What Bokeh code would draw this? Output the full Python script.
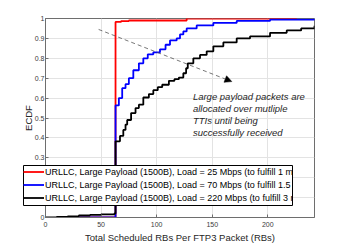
from bokeh.plotting import figure
from bokeh.layouts import column
from bokeh.models import (Legend, LegendItem, FixedTicker, Label,
                          Arrow, NormalHead, Range1d)
from bokeh.embed import file_html
from bokeh.resources import INLINE

# ---- data ----
red_x = [25, 63, 68, 75, 127, 226]
red_y = [0.0, 0.983, 0.987, 0.99, 1.0, 1.0]

blue_x = [25, 63, 66, 69, 72, 75, 79, 84, 88, 92, 97, 103, 108, 112, 118,
          121, 124, 127, 136, 151, 172, 202, 242]
blue_y = [0.0, 0.563, 0.6, 0.65, 0.67, 0.7, 0.74, 0.775, 0.8, 0.82, 0.83,
          0.845, 0.868, 0.89, 0.9, 0.92, 0.935, 0.95, 0.965, 0.978, 0.988,
          0.994, 1.0]

black_x = [0, 10, 20, 30, 40, 50, 62, 63, 67, 70, 72, 73.5, 77, 81, 84, 88,
           93, 97, 101, 105, 111, 116, 120, 124, 126.5, 128, 133, 139, 145,
           151, 160, 172, 184, 202, 217, 230, 242]
black_y = [0.0, 0.003, 0.006, 0.01, 0.013, 0.016, 0.02, 0.383, 0.41, 0.44,
           0.467, 0.49, 0.525, 0.55, 0.567, 0.603, 0.62, 0.64, 0.655, 0.667,
           0.687, 0.695, 0.703, 0.725, 0.75, 0.775, 0.8, 0.817, 0.835, 0.86,
           0.88, 0.9, 0.91, 0.928, 0.94, 0.95, 0.963]

series_labels = [
    "URLLC, Large Payload (1500B), Load = 25 Mbps (to fulfill 1 ms)",
    "URLLC, Large Payload (1500B), Load = 70 Mbps (to fulfill 1.5 ms)",
    "URLLC, Large Payload (1500B), Load = 220 Mbps (to fulfill 3 ms)",
]
series_colors = ["#ff0000", "#0000ff", "#000000"]

xtick_values = [0, 50, 100, 150, 200]
ytick_values = [0, 0.1, 0.2, 0.3, 0.4, 0.5, 0.6, 0.7, 0.8, 0.9, 1]
ytick_labels = ["0", "0.1", "0.2", "0.3", "0.4", "0.5", "0.6", "0.7", "0.8",
                "0.9", "1"]

annotation_lines = ["Large payload packets are", "allocated over mutliple",
                    "TTIs until being", "successfully received"]
arrow_start = (47.8, 0.945)
arrow_end = (167.6, 0.683)
annotation_pos = (132.6, 0.608)

FONT = "Liberation Sans"
AXC = "#6e6e6e"
TXC = "#3c3c3c"

W, H = 347, 245
BL, BR, BT, BB = 45, 33, 18, 27   # borders around the axes box

# ---------------- main plot ----------------
p = figure(width=W, height=H, x_range=Range1d(0, 242), y_range=Range1d(0, 1),
           output_backend="svg", toolbar_location=None,
           min_border_left=BL, min_border_right=BR, min_border_top=BT,
           min_border_bottom=BB)
p.outline_line_color = AXC
p.outline_line_width = 1
p.background_fill_color = "white"
p.border_fill_color = "white"

all_x = [red_x, blue_x, black_x]
all_y = [red_y, blue_y, black_y]
for xs, ys, c in zip(all_x, all_y, series_colors):
    p.step(xs, ys, mode="after", line_color=c, line_width=1.8)

for ax in [p.xaxis[0], p.yaxis[0]]:
    ax.axis_line_color = AXC
    ax.major_tick_line_color = AXC
    ax.major_tick_in = 3
    ax.major_tick_out = 0
    ax.minor_tick_line_color = None
    ax.major_label_text_font = FONT
    ax.major_label_text_font_size = "7px"
    ax.major_label_text_color = TXC
    ax.axis_label_text_font = FONT
    ax.axis_label_text_font_size = "9.5px"
    ax.axis_label_text_font_style = "normal"
    ax.axis_label_text_color = "#262626"

p.xaxis.ticker = FixedTicker(ticks=xtick_values)
p.yaxis.ticker = FixedTicker(ticks=ytick_values)
p.yaxis.major_label_overrides = dict(zip(ytick_values, ytick_labels))
p.xaxis.axis_label = "Total Scheduled RBs Per FTP3 Packet (RBs)"
p.yaxis.axis_label = "ECDF"
p.xaxis.major_label_standoff = 4
p.yaxis.major_label_standoff = 1
p.xaxis.axis_label_standoff = 2
p.yaxis.axis_label_standoff = -2

p.xgrid.ticker = FixedTicker(ticks=xtick_values)
p.ygrid.ticker = FixedTicker(ticks=ytick_values)
p.grid.grid_line_color = "#e3e3e3"
p.grid.grid_line_width = 1

p.add_layout(Arrow(end=NormalHead(size=7, fill_color="black",
                                  line_color="black", line_width=0.5),
                   x_start=arrow_start[0], y_start=arrow_start[1],
                   x_end=arrow_end[0], y_end=arrow_end[1],
                   line_color="#555555", line_width=0.8, line_dash="4 3"))
for i, t in enumerate(annotation_lines):
    p.add_layout(Label(x=annotation_pos[0], y=annotation_pos[1],
                       y_offset=-12 * i, text=t, text_font=FONT,
                       text_font_size="9.5px", text_font_style="italic",
                       text_color="#262626", text_baseline="middle",
                       text_align="left"))

# ------- legend box: a second figure laid over the first one -------
LEG_LEFT, LEG_TOP, LEG_RIGHT, LEG_H = 23, 165, W - BR, 41
LEG_W = LEG_RIGHT - LEG_LEFT
q = figure(width=LEG_W + BL + BR, height=LEG_H, x_range=Range1d(-2, -1),
           y_range=Range1d(0, 1), output_backend="svg", toolbar_location=None,
           x_axis_type=None, y_axis_type=None,
           min_border_left=BL, min_border_right=BR,
           min_border_top=0, min_border_bottom=0,
           margin=(LEG_TOP - H, 0, 0, LEG_LEFT - BL))
q.grid.visible = False
q.outline_line_color = "black"
q.outline_line_width = 1
q.background_fill_color = "white"
q.border_fill_alpha = 0
legend_renderers = [q.step(xs, ys, mode="after", line_color=c, line_width=1.8)
                    for xs, ys, c in zip(all_x, all_y, series_colors)]
legend = Legend(items=[LegendItem(label=l, renderers=[r])
                       for l, r in zip(series_labels, legend_renderers)],
                location="top_left", label_text_font=FONT,
                label_text_font_size="9px", label_text_color="black",
                glyph_width=21, glyph_height=13, label_height=13,
                label_standoff=1, spacing=0, padding=1, margin=0,
                border_line_color=None, background_fill_alpha=0)
q.add_layout(legend, "center")

layout = column(p, q, spacing=0)
open("out.html", "w").write(file_html(layout, INLINE))
